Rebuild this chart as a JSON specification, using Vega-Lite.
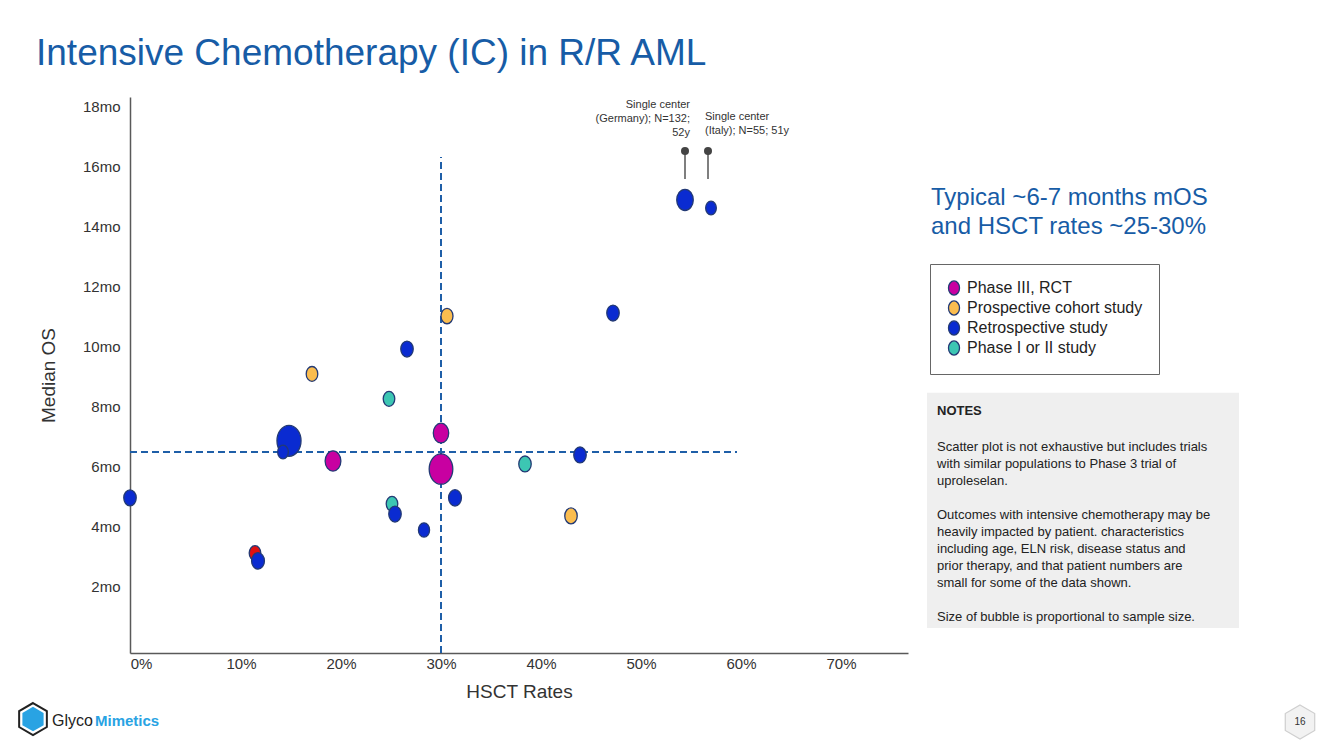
{
  "$schema": "https://vega.github.io/schema/vega-lite/v6.json",
  "width": 778,
  "height": 556,
  "autosize": {"type": "none"},
  "padding": {"left": 130, "top": 97, "right": 425, "bottom": 96},
  "background": "white",
  "config": {"font": "Liberation Sans", "view": {"stroke": null}},
  "title": {
    "text": "Intensive Chemotherapy (IC) in R/R AML",
    "anchor": "start",
    "frame": "group",
    "dx": -94,
    "dy": 39,
    "offset": 34,
    "fontSize": 37,
    "fontWeight": "normal",
    "font": "Liberation Sans",
    "color": "#175ca6",
    "baseline": "alphabetic"
  },
  "datasets": {
    "studies": [
      {"study": "Retrospective study", "hsct": 14.8, "os": 6.87, "n": 280},
      {"study": "Phase III, RCT", "hsct": 30.0, "os": 5.93, "n": 270},
      {"study": "Phase III, RCT", "hsct": 30.0, "os": 7.13, "n": 115},
      {"study": "Phase III, RCT", "hsct": 19.2, "os": 6.2, "n": 120},
      {"study": "Retrospective study", "hsct": 14.2, "os": 6.5, "n": 55},
      {"study": "Retrospective study", "hsct": -1.1, "os": 4.97, "n": 75},
      {"study": "Other", "hsct": 11.4, "os": 3.13, "n": 65},
      {"study": "Retrospective study", "hsct": 11.7, "os": 2.87, "n": 80},
      {"study": "Prospective cohort study", "hsct": 17.1, "os": 9.1, "n": 65},
      {"study": "Phase I or II study", "hsct": 24.8, "os": 8.27, "n": 65},
      {"study": "Retrospective study", "hsct": 26.6, "os": 9.93, "n": 75},
      {"study": "Prospective cohort study", "hsct": 30.6, "os": 11.03, "n": 70},
      {"study": "Phase I or II study", "hsct": 25.1, "os": 4.77, "n": 65},
      {"study": "Retrospective study", "hsct": 25.4, "os": 4.43, "n": 75},
      {"study": "Retrospective study", "hsct": 28.3, "os": 3.9, "n": 60},
      {"study": "Retrospective study", "hsct": 31.4, "os": 4.97, "n": 80},
      {"study": "Phase I or II study", "hsct": 38.4, "os": 6.1, "n": 75},
      {"study": "Retrospective study", "hsct": 43.9, "os": 6.4, "n": 75},
      {"study": "Prospective cohort study", "hsct": 43.0, "os": 4.37, "n": 75},
      {"study": "Retrospective study", "hsct": 47.2, "os": 11.13, "n": 75},
      {"study": "Retrospective study", "hsct": 54.4, "os": 14.9, "n": 132},
      {"study": "Retrospective study", "hsct": 57.0, "os": 14.63, "n": 55}
    ],
    "refs": [
      {"x1": 30, "x2": 30, "y1": -0.2, "y2": 16.33},
      {"x1": -1.1, "x2": 59.6, "y1": 6.5, "y2": 6.5}
    ],
    "pins": [
      {"hsct": 54.4, "low": 15.6, "high": 16.53},
      {"hsct": 56.7, "low": 15.6, "high": 16.53}
    ],
    "callLeft": [{"hsct": 54.9, "os": 18.25, "label": "Single center\n(Germany); N=132;\n52y"}],
    "callRight": [{"hsct": 56.4, "os": 17.85, "label": "Single center\n(Italy); N=55; 51y"}],
    "headline": [{"hsct": 79.0, "os": 15.38, "label": "Typical ~6-7 months mOS\nand HSCT rates ~25-30%"}],
    "notesBox": [{"x1": 78.6, "x2": 109.8, "y1": 0.63, "y2": 8.47}],
    "notesHead": [{"hsct": 79.6, "os": 7.87, "label": "NOTES"}],
    "notesBody": [
      {"hsct": 79.6, "os": 6.85, "label": "Scatter plot is not exhaustive but includes trials\nwith similar populations to Phase 3 trial of\nuproleselan."},
      {"hsct": 79.6, "os": 4.59, "label": "Outcomes with intensive chemotherapy may be\nheavily impacted by  patient. characteristics\nincluding age, ELN risk, disease status and\nprior therapy, and that patient numbers are\nsmall for some of the data shown."},
      {"hsct": 79.6, "os": 1.19, "label": "Size of bubble is proportional to sample size."}
    ],
    "logoHex": [{"hsct": -10.8, "os": -2.4}],
    "logoWord1": [{"hsct": -8.9, "os": -2.47, "label": "Glyco"}],
    "logoWord2": [{"hsct": -4.6, "os": -2.47, "label": "Mimetics"}],
    "pageNo": [{"hsct": 115.9, "os": -2.5, "label": "16"}]
  },
  "layer": [
    {
      "data": {"name": "notesBox"},
      "mark": {"type": "rect", "fill": "#efefef", "clip": false},
      "encoding": {
        "x": {"field": "x1", "type": "quantitative", "scale": {"domain": [-1.1, 76.7], "nice": false, "zero": false}},
        "x2": {"field": "x2"},
        "y": {"field": "y1", "type": "quantitative", "scale": {"domain": [-0.2, 18.33], "nice": false, "zero": false}},
        "y2": {"field": "y2"}
      }
    },
    {
      "data": {"name": "refs"},
      "mark": {"type": "rule", "color": "#1f5fa8", "strokeWidth": 2, "strokeDash": [7, 4]},
      "encoding": {
        "x": {"field": "x1", "type": "quantitative"},
        "x2": {"field": "x2"},
        "y": {"field": "y1", "type": "quantitative"},
        "y2": {"field": "y2"}
      }
    },
    {
      "data": {"name": "studies"},
      "mark": {
        "type": "point",
        "filled": true,
        "opacity": 1,
        "shape": "M0,-1A0.78,1 0 1,1 0,1A0.78,1 0 1,1 0,-1Z",
        "stroke": "#233a75",
        "strokeWidth": 1.3
      },
      "encoding": {
        "x": {
          "field": "hsct", "type": "quantitative",
          "scale": {"domain": [-1.1, 76.7], "nice": false, "zero": false},
          "axis": {
            "title": "HSCT Rates",
            "values": [0, 10, 20, 30, 40, 50, 60, 70],
            "labelExpr": "datum.value + '%'",
            "grid": false, "ticks": false,
            "domainColor": "#595959", "domainWidth": 1.5,
            "labelFontSize": 15, "labelColor": "#333333", "labelPadding": 3, "labelFont": "Liberation Sans",
            "titleFontSize": 19, "titleFontWeight": "normal", "titleColor": "#333333", "titlePadding": 11, "titleFont": "Liberation Sans"
          }
        },
        "y": {
          "field": "os", "type": "quantitative",
          "scale": {"domain": [-0.2, 18.33], "nice": false, "zero": false},
          "axis": {
            "title": "Median OS",
            "values": [2, 4, 6, 8, 10, 12, 14, 16, 18],
            "labelExpr": "datum.value + 'mo'",
            "grid": false, "ticks": false,
            "domainColor": "#595959", "domainWidth": 1.5,
            "labelFontSize": 15, "labelColor": "#333333", "labelPadding": 10, "labelFont": "Liberation Sans",
            "titleFontSize": 19, "titleFontWeight": "normal", "titleColor": "#333333", "titlePadding": 24, "titleFont": "Liberation Sans"
          }
        },
        "color": {
          "field": "study", "type": "nominal",
          "scale": {
            "domain": ["Phase III, RCT", "Prospective cohort study", "Retrospective study", "Phase I or II study", "Other"],
            "range": ["#c800a1", "#fbbd4f", "#0a2bd1", "#3cc6b3", "#e01010"]
          },
          "legend": {
            "orient": "none",
            "legendX": 800,
            "legendY": 167,
            "title": null,
            "values": ["Phase III, RCT", "Prospective cohort study", "Retrospective study", "Phase I or II study"],
            "symbolType": "M0,-1A0.78,1 0 1,1 0,1A0.78,1 0 1,1 0,-1Z",
            "symbolSize": 200,
            "symbolStrokeColor": "#233a75",
            "symbolStrokeWidth": 1.3,
            "symbolOpacity": 1,
            "labelFontSize": 16,
            "labelFont": "Liberation Sans",
            "labelColor": "#222222",
            "labelOffset": 5,
            "rowPadding": 0,
            "padding": 16,
            "strokeColor": "#666666",
            "fillColor": "white",
            "labelLimit": 400
          }
        },
        "size": {
          "field": "n", "type": "quantitative",
          "scale": {"domain": [0, 300], "range": [0, 1020]},
          "legend": null
        }
      }
    },
    {
      "data": {"name": "pins"},
      "mark": {"type": "rule", "color": "#555555", "strokeWidth": 1.5},
      "encoding": {
        "x": {"field": "hsct", "type": "quantitative"},
        "y": {"field": "low", "type": "quantitative"},
        "y2": {"field": "high"}
      }
    },
    {
      "data": {"name": "pins"},
      "mark": {"type": "point", "filled": true, "color": "#444444", "size": 64, "opacity": 1},
      "encoding": {
        "x": {"field": "hsct", "type": "quantitative"},
        "y": {"field": "high", "type": "quantitative"}
      }
    },
    {
      "data": {"name": "callLeft"},
      "mark": {"type": "text", "align": "right", "baseline": "top", "fontSize": 11, "lineHeight": 14, "lineBreak": "\n", "color": "#333333"},
      "encoding": {
        "x": {"field": "hsct", "type": "quantitative"},
        "y": {"field": "os", "type": "quantitative"},
        "text": {"field": "label"}
      }
    },
    {
      "data": {"name": "callRight"},
      "mark": {"type": "text", "align": "left", "baseline": "top", "fontSize": 11, "lineHeight": 13.5, "lineBreak": "\n", "color": "#333333"},
      "encoding": {
        "x": {"field": "hsct", "type": "quantitative"},
        "y": {"field": "os", "type": "quantitative"},
        "text": {"field": "label"}
      }
    },
    {
      "data": {"name": "headline"},
      "mark": {"type": "text", "align": "left", "baseline": "top", "fontSize": 24, "lineHeight": 29, "lineBreak": "\n", "color": "#175ca6"},
      "encoding": {
        "x": {"field": "hsct", "type": "quantitative"},
        "y": {"field": "os", "type": "quantitative"},
        "text": {"field": "label"}
      }
    },
    {
      "data": {"name": "notesHead"},
      "mark": {"type": "text", "align": "left", "baseline": "middle", "fontSize": 13, "fontWeight": "bold", "color": "#222222"},
      "encoding": {
        "x": {"field": "hsct", "type": "quantitative"},
        "y": {"field": "os", "type": "quantitative"},
        "text": {"field": "label"}
      }
    },
    {
      "data": {"name": "notesBody"},
      "mark": {"type": "text", "align": "left", "baseline": "top", "fontSize": 13, "lineHeight": 17, "lineBreak": "\n", "color": "#222222"},
      "encoding": {
        "x": {"field": "hsct", "type": "quantitative"},
        "y": {"field": "os", "type": "quantitative"},
        "text": {"field": "label"}
      }
    },
    {
      "data": {"name": "logoHex"},
      "mark": {"type": "point", "shape": "M0,-1L0.866,-0.5L0.866,0.5L0,1L-0.866,0.5L-0.866,-0.5Z", "size": 1024, "filled": true, "fill": "white", "stroke": "#222222", "strokeWidth": 2, "opacity": 1},
      "encoding": {
        "x": {"field": "hsct", "type": "quantitative"},
        "y": {"field": "os", "type": "quantitative"}
      }
    },
    {
      "data": {"name": "logoHex"},
      "mark": {"type": "point", "shape": "M0,-1L0.866,-0.5L0.866,0.5L0,1L-0.866,0.5L-0.866,-0.5Z", "size": 600, "filled": true, "fill": "#29a3e3", "strokeWidth": 0, "opacity": 1},
      "encoding": {
        "x": {"field": "hsct", "type": "quantitative"},
        "y": {"field": "os", "type": "quantitative"}
      }
    },
    {
      "data": {"name": "logoWord1"},
      "mark": {"type": "text", "align": "left", "baseline": "middle", "fontSize": 16, "color": "#222222"},
      "encoding": {
        "x": {"field": "hsct", "type": "quantitative"},
        "y": {"field": "os", "type": "quantitative"},
        "text": {"field": "label"}
      }
    },
    {
      "data": {"name": "logoWord2"},
      "mark": {"type": "text", "align": "left", "baseline": "middle", "fontSize": 15, "fontWeight": "bold", "color": "#29a3e3"},
      "encoding": {
        "x": {"field": "hsct", "type": "quantitative"},
        "y": {"field": "os", "type": "quantitative"},
        "text": {"field": "label"}
      }
    },
    {
      "data": {"name": "pageNo"},
      "mark": {"type": "point", "shape": "M0,-1L0.866,-0.5L0.866,0.5L0,1L-0.866,0.5L-0.866,-0.5Z", "size": 1156, "filled": true, "fill": "#f2f2f2", "stroke": "#cfcfcf", "strokeWidth": 1.2, "opacity": 1},
      "encoding": {
        "x": {"field": "hsct", "type": "quantitative"},
        "y": {"field": "os", "type": "quantitative"}
      }
    },
    {
      "data": {"name": "pageNo"},
      "mark": {"type": "text", "align": "center", "baseline": "middle", "fontSize": 10, "color": "#333333"},
      "encoding": {
        "x": {"field": "hsct", "type": "quantitative"},
        "y": {"field": "os", "type": "quantitative"},
        "text": {"field": "label"}
      }
    }
  ]
}
